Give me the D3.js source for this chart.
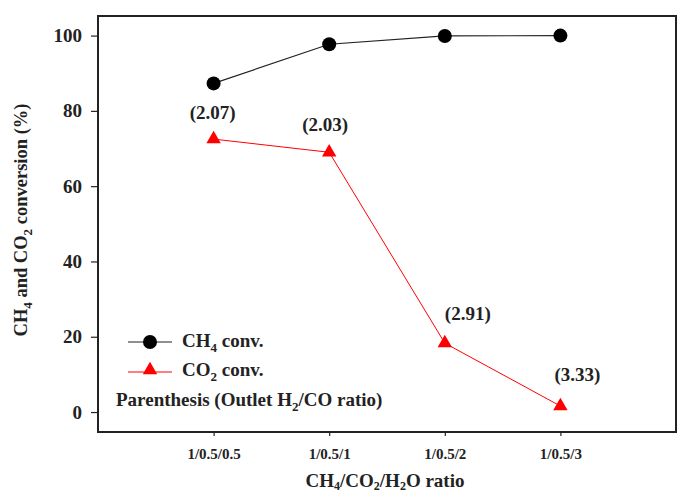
<!DOCTYPE html>
<html><head><meta charset="utf-8">
<script src="https://cdn.jsdelivr.net/npm/d3@7"></script>
<style>body{margin:0;background:#fff}svg{display:block}text{font-family:"Liberation Serif","Times New Roman",serif;font-weight:bold;fill:#222}</style>
</head><body><svg id="c" width="683" height="493"></svg>
<script>
const categories = ["1/0.5/0.5","1/0.5/1","1/0.5/2","1/0.5/3"];
const ch4Conv = [87.3, 97.7, 99.9, 100];
const co2Conv = [72.5, 69.0, 18.3, 1.6];
const h2coRatio = ["(2.07)","(2.03)","(2.91)","(3.33)"];
const yTicks = [0,20,40,60,80,100];

const svg = d3.select("#c");
const L=98, R=676, T=16, B=432;
const x = d3.scaleLinear().domain([0,5]).range([L,R]);
const y = d3.scaleLinear().domain([-5.3,105.2]).range([B,T]);

// frame
svg.append("rect").attr("x",L).attr("y",T).attr("width",R-L).attr("height",B-T)
  .attr("fill","none").attr("stroke","#222").attr("stroke-width",2);

// y axis
const ya = svg.append("g").attr("transform",`translate(${L},0)`)
  .call(d3.axisLeft(y).tickValues(yTicks).tickSize(7).tickPadding(9));
ya.select(".domain").remove();
ya.selectAll("line").attr("stroke","#222").attr("stroke-width",1.2);
ya.selectAll("text").style("font-size","19px").style("font-family","Liberation Serif").style("font-weight","bold").attr("fill","#222");

// x axis
const xa = svg.append("g").attr("transform",`translate(0,${B})`)
  .call(d3.axisBottom(x).tickValues([1,2,3,4]).tickFormat((d,i)=>categories[i]).tickSize(4).tickPadding(12));
xa.select(".domain").remove();
xa.selectAll("line").attr("stroke","#222").attr("stroke-width",1.2);
xa.selectAll("text").style("font-size","15px").style("font-family","Liberation Serif").style("font-weight","bold").attr("fill","#222");

const idx = categories.map((c,i)=>i+1);

// CH4 line
const line = d3.line().x(d=>x(d[0])).y(d=>y(d[1]));
svg.append("path").datum(idx.map((p,i)=>[p,ch4Conv[i]])).attr("d",line)
  .attr("fill","none").attr("stroke","#222").attr("stroke-width",1.2);
svg.selectAll(".ch4").data(ch4Conv).enter().append("circle")
  .attr("cx",(d,i)=>x(idx[i])).attr("cy",d=>y(d)).attr("r",7).attr("fill","#000");

// CO2 line
svg.append("path").datum(idx.map((p,i)=>[p,co2Conv[i]])).attr("d",line)
  .attr("fill","none").attr("stroke","#f00").attr("stroke-width",1);
const tri = d3.symbol().type(d3.symbolTriangle).size(90);
svg.selectAll(".co2").data(co2Conv).enter().append("path")
  .attr("d",tri).attr("transform",(d,i)=>`translate(${x(idx[i])},${y(d)})`).attr("fill","#f00");

// ratio labels
const labOff = [[-1,-20],[-4,-21],[23,-23],[17,-25]];
svg.selectAll(".lab").data(h2coRatio).enter().append("text")
  .attr("x",(d,i)=>x(idx[i])+labOff[i][0]).attr("y",(d,i)=>y(co2Conv[i])+labOff[i][1])
  .attr("text-anchor","middle").style("font-size","19px").text(d=>d);

// legend
const lg = svg.append("g");
lg.append("line").attr("x1",128).attr("x2",172).attr("y1",342).attr("y2",342).attr("stroke","#222").attr("stroke-width",1.2);
lg.append("circle").attr("cx",150).attr("cy",342).attr("r",7).attr("fill","#000");
const t1 = lg.append("text").attr("x",182).attr("y",347).style("font-size","19px");
t1.append("tspan").text("CH");
t1.append("tspan").attr("dy",5).style("font-size","13px").text("4");
t1.append("tspan").attr("dy",-5).text(" conv.");
lg.append("line").attr("x1",128).attr("x2",172).attr("y1",372).attr("y2",372).attr("stroke","#f00").attr("stroke-width",1);
lg.append("path").attr("d",tri).attr("transform","translate(150,370)").attr("fill","#f00");
const t2 = lg.append("text").attr("x",182).attr("y",376).style("font-size","19px");
t2.append("tspan").text("CO");
t2.append("tspan").attr("dy",5).style("font-size","13px").text("2");
t2.append("tspan").attr("dy",-5).text(" conv.");
const t3 = lg.append("text").attr("x",116).attr("y",406).style("font-size","19px");
t3.append("tspan").text("Parenthesis (Outlet H");
t3.append("tspan").attr("dy",5).style("font-size","13px").text("2");
t3.append("tspan").attr("dy",-5).text("/CO ratio)");

// axis titles
const yt = svg.append("text").attr("transform","translate(27,220) rotate(-90)").attr("text-anchor","middle").style("font-size","18.5px");
yt.append("tspan").text("CH");
yt.append("tspan").attr("dy",5).style("font-size","13px").text("4");
yt.append("tspan").attr("dy",-5).text(" and CO");
yt.append("tspan").attr("dy",5).style("font-size","13px").text("2");
yt.append("tspan").attr("dy",-5).text(" conversion (%)");

const xt = svg.append("text").attr("x",385).attr("y",487).attr("text-anchor","middle").style("font-size","19px");
xt.append("tspan").text("CH");
xt.append("tspan").attr("dy",3).style("font-size","12px").text("4");
xt.append("tspan").attr("dy",-3).text("/CO");
xt.append("tspan").attr("dy",3).style("font-size","12px").text("2");
xt.append("tspan").attr("dy",-3).text("/H");
xt.append("tspan").attr("dy",3).style("font-size","12px").text("2");
xt.append("tspan").attr("dy",-3).text("O ratio");
</script></body></html>
